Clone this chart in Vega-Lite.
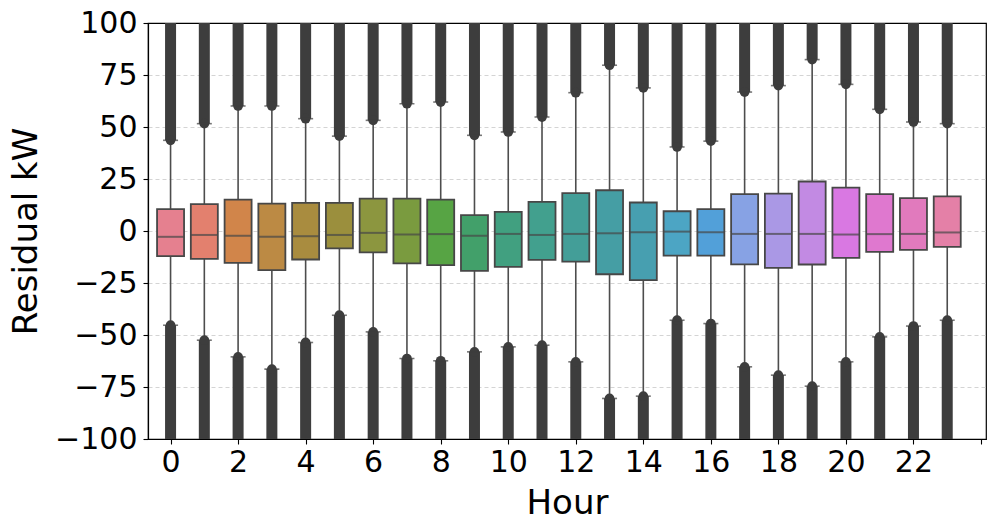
{
  "$schema": "https://vega.github.io/schema/vega-lite/v6.json",
  "width": 838,
  "height": 416,
  "autosize": "none",
  "padding": {"left": 148, "top": 23, "right": 11, "bottom": 93},
  "config": {
    "font": "DejaVu Sans",
    "view": {"stroke": "#000000", "strokeWidth": 1.2},
    "axis": {
      "labelFont": "DejaVu Sans", "labelFontSize": 30, "labelColor": "#000000",
      "titleFont": "DejaVu Sans", "titleFontSize": 34, "titleFontWeight": "normal", "titleColor": "#000000",
      "tickColor": "#000000", "tickSize": 5, "tickWidth": 1.1,
      "domainColor": "#000000", "domainWidth": 1.2,
      "labelFlush": false, "labelOverlap": false, "labelBound": false,
      "grid": false
    }
  },
  "data": {"values": [
    {"hour": 0, "q1": -12.1, "median": -2.8, "q3": 10.5, "lo": -45.3, "hi": 43.6},
    {"hour": 1, "q1": -13.4, "median": -1.9, "q3": 12.9, "lo": -52.5, "hi": 51.6},
    {"hour": 2, "q1": -15.3, "median": -2.3, "q3": 15.1, "lo": -60.5, "hi": 60.1},
    {"hour": 3, "q1": -18.8, "median": -2.8, "q3": 13.2, "lo": -66.4, "hi": 60.1},
    {"hour": 4, "q1": -13.7, "median": -2.5, "q3": 13.5, "lo": -53.6, "hi": 54.0},
    {"hour": 5, "q1": -8.4, "median": -1.9, "q3": 13.5, "lo": -40.5, "hi": 45.6},
    {"hour": 6, "q1": -10.3, "median": -0.9, "q3": 15.6, "lo": -48.5, "hi": 53.2},
    {"hour": 7, "q1": -15.6, "median": -1.7, "q3": 15.6, "lo": -61.3, "hi": 61.2},
    {"hour": 8, "q1": -16.4, "median": -1.5, "q3": 15.1, "lo": -62.4, "hi": 62.0},
    {"hour": 9, "q1": -19.2, "median": -2.3, "q3": 7.6, "lo": -58.1, "hi": 46.0},
    {"hour": 10, "q1": -17.2, "median": -1.4, "q3": 9.2, "lo": -55.7, "hi": 47.6},
    {"hour": 11, "q1": -13.9, "median": -1.9, "q3": 14.0, "lo": -54.9, "hi": 54.8},
    {"hour": 12, "q1": -14.7, "median": -1.4, "q3": 18.2, "lo": -62.9, "hi": 66.5},
    {"hour": 13, "q1": -20.8, "median": -1.1, "q3": 19.6, "lo": -80.5, "hi": 79.7},
    {"hour": 14, "q1": -23.6, "median": -0.6, "q3": 13.7, "lo": -79.4, "hi": 68.8},
    {"hour": 15, "q1": -11.8, "median": -0.3, "q3": 9.5, "lo": -42.9, "hi": 40.4},
    {"hour": 16, "q1": -11.8, "median": -0.6, "q3": 10.5, "lo": -44.5, "hi": 43.2},
    {"hour": 17, "q1": -16.0, "median": -1.4, "q3": 17.7, "lo": -65.3, "hi": 66.8},
    {"hour": 18, "q1": -17.7, "median": -1.4, "q3": 18.0, "lo": -69.3, "hi": 69.9},
    {"hour": 19, "q1": -16.1, "median": -1.4, "q3": 23.8, "lo": -74.6, "hi": 82.4},
    {"hour": 20, "q1": -12.9, "median": -1.7, "q3": 20.9, "lo": -62.9, "hi": 70.5},
    {"hour": 21, "q1": -10.0, "median": -1.5, "q3": 17.7, "lo": -50.9, "hi": 58.5},
    {"hour": 22, "q1": -9.1, "median": -1.4, "q3": 15.8, "lo": -45.7, "hi": 52.4},
    {"hour": 23, "q1": -7.6, "median": -0.7, "q3": 16.6, "lo": -42.9, "hi": 51.6}
  ]},
  "encoding": {
    "x": {
      "field": "hour", "type": "quantitative", "title": "Hour",
      "scale": {"domain": [-0.52, 24], "nice": false, "zero": false},
      "axis": {
        "values": [0, 2, 4, 6, 8, 10, 12, 14, 16, 18, 20, 22, 24],
        "labelExpr": "datum.value == 24 ? '' : datum.label",
        "labelPadding": 3,
        "titleX": 419, "titleY": 74, "titleBaseline": "alphabetic", "titleAlign": "center",
        "grid": false
      }
    }
  },
  "layer": [
    {
      "mark": {"type": "rule", "color": "#4d4d4d", "strokeWidth": 1.6},
      "encoding": {
        "y": {"field": "lo", "type": "quantitative", "title": "Residual kW",
          "scale": {"domain": [-100, 100], "nice": false, "zero": false},
          "axis": {
            "values": [-100, -75, -50, -25, 0, 25, 50, 75, 100],
            "grid": true, "gridDash": [4, 3], "gridColor": "#d4d4d4", "gridWidth": 1,
            "gridOpacity": {"condition": {"test": "datum.value == 100 || datum.value == -100", "value": 0}, "value": 1},
            "labelPadding": 6,
            "titleX": -112, "titleY": 208, "titleAngle": -90, "titleBaseline": "alphabetic", "titleAlign": "center"
          }
        },
        "y2": {"field": "hi"}
      }
    },
    {
      "mark": {"type": "bar", "color": "#3d3d3d", "size": 11, "clip": true},
      "encoding": {
        "y": {"field": "hi", "type": "quantitative", "title": "Residual kW"},
        "y2": {"datum": 100}
      }
    },
    {
      "mark": {"type": "bar", "color": "#3d3d3d", "size": 11, "clip": true},
      "encoding": {
        "y": {"field": "lo", "type": "quantitative", "title": "Residual kW"},
        "y2": {"datum": -100}
      }
    },
    {
      "mark": {"type": "point", "shape": "circle", "filled": true, "color": "#3d3d3d", "size": 95, "opacity": 1},
      "encoding": {"y": {"field": "hi", "type": "quantitative", "title": "Residual kW"}}
    },
    {
      "mark": {"type": "point", "shape": "circle", "filled": true, "color": "#3d3d3d", "size": 95, "opacity": 1},
      "encoding": {"y": {"field": "lo", "type": "quantitative", "title": "Residual kW"}}
    },
    {
      "mark": {"type": "tick", "orient": "horizontal", "color": "#3d3d3d", "size": 15, "thickness": 1.6},
      "encoding": {"y": {"field": "hi", "type": "quantitative", "title": "Residual kW"}}
    },
    {
      "mark": {"type": "tick", "orient": "horizontal", "color": "#3d3d3d", "size": 15, "thickness": 1.6},
      "encoding": {"y": {"field": "lo", "type": "quantitative", "title": "Residual kW"}}
    },
    {
      "mark": {"type": "bar", "size": 27, "stroke": "#474747", "strokeWidth": 1.8, "opacity": 1},
      "encoding": {
        "y": {"field": "q1", "type": "quantitative", "title": "Residual kW"},
        "y2": {"field": "q3"},
        "color": {
          "field": "hour", "type": "nominal", "legend": null,
          "scale": {
            "domain": [0,1,2,3,4,5,6,7,8,9,10,11,12,13,14,15,16,17,18,19,20,21,22,23],
            "range": ["#e5808f", "#e3806e", "#d1854a", "#bc8a44", "#a98c3f", "#9b8f3d", "#8c963f", "#7a9b3f", "#57a444", "#42a06a", "#41a080", "#42a08e", "#439e98", "#459ea4", "#479fb0", "#4ca5c4", "#52a0d9", "#87a2e4", "#aa98e5", "#c28ae3", "#d978e2", "#df78cf", "#e17abd", "#e480a7"]
          }
        }
      }
    },
    {
      "mark": {"type": "tick", "orient": "horizontal", "color": "#474747", "size": 27, "thickness": 2},
      "encoding": {"y": {"field": "median", "type": "quantitative", "title": "Residual kW"}}
    }
  ]
}
